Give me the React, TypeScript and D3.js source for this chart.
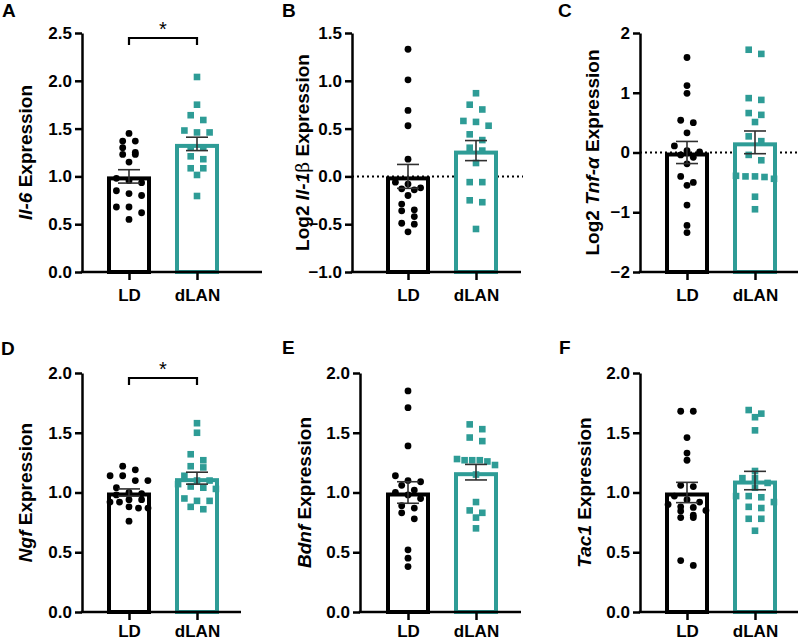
import React, { useEffect, useRef } from "react";
import * as d3 from "d3";

const groups = ["LD", "dLAN"];

// Panel A: Il-6
const il6LD = [1.45, 1.37, 1.37, 1.3, 1.25, 1.23, 1.23, 1.15, 0.98, 0.955, 0.934, 0.85, 0.82, 0.8, 0.68, 0.68, 0.62, 0.55];
const il6DLAN = [2.04, 1.75, 1.64, 1.59, 1.46, 1.48, 1.46, 1.3, 1.3, 1.21, 1.18, 1.085, 1.085, 1.015, 0.795];
// Panel B: Log2 Il-1b
const il1bLD = [1.33, 1.01, 0.69, 0.53, 0.18, -0.06, -0.08, -0.12, -0.14, -0.13, -0.2, -0.29, -0.35, -0.36, -0.42, -0.49, -0.5, -0.58];
const il1bDLAN = [0.87, 0.75, 0.7, 0.57, 0.58, 0.53, 0.44, 0.38, 0.3, 0.27, 0.14, -0.06, -0.06, -0.25, -0.27, -0.55];
// Panel C: Log2 Tnf-a
const tnfLD = [1.59, 1.12, 0.99, 0.54, 0.5, 0.33, 0.11, 0.03, 0.01, -0.04, -0.08, -0.19, -0.4, -0.5, -0.55, -0.88, -1.22, -1.34];
const tnfDLAN = [1.72, 1.65, 0.91, 0.88, 0.63, 0.66, 0.51, 0.27, 0.19, -0.04, -0.13, -0.4, -0.39, -0.44, -0.4, -0.41, -0.74, -0.95];
// Panel D: Ngf
const ngfLD = [1.22, 1.19, 1.14, 1.14, 1.1, 1.1, 1.04, 1.0, 0.99, 0.98, 0.94, 0.94, 0.92, 0.92, 0.87, 0.87, 0.88, 0.76];
const ngfDLAN = [1.58, 1.5, 1.32, 1.27, 1.22, 1.21, 1.14, 1.1, 1.1, 1.07, 1.04, 1.03, 1.05, 0.93, 0.95, 0.93, 0.86, 0.88];
// Panel E: Bdnf
const bdnfLD = [1.85, 1.71, 1.39, 1.14, 1.1, 1.09, 1.06, 1.02, 1.0, 0.98, 0.95, 0.89, 0.87, 0.83, 0.78, 0.52, 0.45, 0.38];
const bdnfDLAN = [1.57, 1.53, 1.46, 1.43, 1.27, 1.28, 1.27, 1.26, 1.27, 1.23, 1.15, 0.92, 0.83, 0.85, 0.79, 0.7];
// Panel F: Tac1
const tac1LD = [1.68, 1.68, 1.46, 1.33, 1.27, 1.06, 1.05, 0.97, 0.94, 0.92, 0.9, 0.88, 0.875, 0.85, 0.845, 0.81, 0.79, 0.79, 0.39, 0.43];
const tac1DLAN = [1.69, 1.66, 1.63, 1.52, 1.18, 1.12, 1.12, 1.08, 1.04, 0.97, 0.92, 0.97, 0.96, 0.87, 0.88, 0.78, 0.78, 0.68];

// Means and SEMs (LD, dLAN)
const meansA = [1.0, 1.34];
const semsA = [0.07, 0.07];
const meansB = [0.0, 0.27];
const semsB = [0.125, 0.105];
const meansC = [0.0, 0.17];
const semsC = [0.185, 0.19];
const meansD = [1.0, 1.12];
const semsD = [0.03, 0.05];
const meansE = [1.0, 1.17];
const semsE = [0.09, 0.065];
const meansF = [1.0, 1.1];
const semsF = [0.085, 0.077];

const ticksA = [0, 0.5, 1.0, 1.5, 2.0, 2.5];
const ticksB = [-1.0, -0.5, 0, 0.5, 1.0, 1.5];
const ticksC = [-2, -1, 0, 1, 2];
const ticksDEF = [0, 0.5, 1.0, 1.5, 2.0];

const BLACK = "#000000";
const TEAL = "#2e9c96";
const FONT = "'Liberation Sans', Arial, Helvetica, sans-serif";

type TitlePart = { t: string; italic?: boolean; light?: boolean };

const panels = [
  { letter: "A", lx: 2, ly: 17, ld: il6LD, dl: il6DLAN, means: meansA, sems: semsA, ticks: ticksA, fmt: ".1f",
    axisX: 82, axisEnd: 262, origin: 82, top: 33, bottom: 272, titleX: 32, zero: false, sig: true, xpad: 9,
    title: [{ t: "Il-6", italic: true }, { t: " Expression" }] as TitlePart[] },
  { letter: "B", lx: 282, ly: 17, ld: il1bLD, dl: il1bDLAN, means: meansB, sems: semsB, ticks: ticksB, fmt: ".1f",
    axisX: 352, axisEnd: 521, origin: 361, top: 33, bottom: 272, titleX: 308.5, zero: true, sig: false, xpad: 9,
    title: [{ t: "Log2 " }, { t: "Il-1", italic: true }, { t: "β", light: true }, { t: " Expression" }] as TitlePart[] },
  { letter: "C", lx: 558, ly: 17, ld: tnfLD, dl: tnfDLAN, means: meansC, sems: semsC, ticks: ticksC, fmt: "d",
    axisX: 640, axisEnd: 798, origin: 640, top: 33, bottom: 272, titleX: 598.5, zero: true, sig: false, xpad: 9,
    title: [{ t: "Log2 " }, { t: "Tnf-α", italic: true }, { t: " Expression" }] as TitlePart[] },
  { letter: "D", lx: 1, ly: 355, ld: ngfLD, dl: ngfDLAN, means: meansD, sems: semsD, ticks: ticksDEF, fmt: ".1f",
    axisX: 82, axisEnd: 241, origin: 82, top: 373, bottom: 612, titleX: 32, zero: false, sig: true, xpad: 5,
    title: [{ t: "Ngf", italic: true }, { t: " Expression" }] as TitlePart[] },
  { letter: "E", lx: 282, ly: 354, ld: bdnfLD, dl: bdnfDLAN, means: meansE, sems: semsE, ticks: ticksDEF, fmt: ".1f",
    axisX: 360, axisEnd: 521, origin: 361, top: 373, bottom: 612, titleX: 310.5, zero: false, sig: false, xpad: 5,
    title: [{ t: "Bdnf", italic: true }, { t: " Expression" }] as TitlePart[] },
  { letter: "F", lx: 559, ly: 354, ld: tac1LD, dl: tac1DLAN, means: meansF, sems: semsF, ticks: ticksDEF, fmt: ".1f",
    axisX: 640, axisEnd: 798, origin: 640, top: 373, bottom: 612, titleX: 590.5, zero: false, sig: false, xpad: 5,
    title: [{ t: "Tac1", italic: true }, { t: " Expression" }] as TitlePart[] },
];

function swarm(values: number[], y: d3.ScaleLinear<number, number>) {
  const pts = values.map((v) => ({ v, y: y(v), dx: 0 })).sort((a, b) => a.y - b.y);
  const rows: typeof pts[] = [];
  let cur: typeof pts = [];
  for (const p of pts) {
    if (cur.length && p.y - cur[0].y > 6.5) {
      rows.push(cur);
      cur = [p];
    } else cur.push(p);
  }
  if (cur.length) rows.push(cur);
  rows.forEach((row) => {
    const n = row.length;
    const step = n > 4 ? 38 / (n - 1) : 12.6;
    row.forEach((p, i) => (p.dx = (i - (n - 1) / 2) * step));
  });
  return pts;
}

export default function App() {
  const ref = useRef<SVGSVGElement>(null);

  useEffect(() => {
    const svg = d3.select(ref.current);
    svg.selectAll("*").remove();

    panels.forEach((p) => {
      const g = svg.append("g");
      const y = d3.scaleLinear().domain([p.ticks[0], p.ticks[p.ticks.length - 1]]).range([p.bottom, p.top]);
      const x = d3.scalePoint<string>().domain(groups).range([p.origin + 47, p.origin + 115]);

      // panel letter
      g.append("text").attr("x", p.lx).attr("y", p.ly).attr("font-family", FONT)
        .attr("font-weight", "bold").attr("font-size", 19).text(p.letter);

      // y title
      const tt = g.append("text")
        .attr("transform", `translate(${p.titleX},${(p.top + p.bottom) / 2}) rotate(-90)`)
        .attr("text-anchor", "middle").attr("font-family", FONT)
        .attr("font-weight", "bold").attr("font-size", 19);
      p.title.forEach((part) => {
        const ts = tt.append("tspan").text(part.t);
        if (part.italic) ts.attr("font-style", "italic");
        if (part.light) ts.attr("font-weight", "normal").attr("font-family", "'DejaVu Serif', serif");
      });

      // zero dotted line
      if (p.zero) {
        g.append("line").attr("x1", p.axisX).attr("x2", p.axisEnd + 2)
          .attr("y1", y(0)).attr("y2", y(0)).attr("stroke", "#000")
          .attr("stroke-width", 2).attr("stroke-dasharray", "2,3");
      }

      // bars (outer edge of stroke at the mean)
      const colors = [BLACK, TEAL];
      groups.forEach((grp, i) => {
        const m = p.means[i];
        const top = y(m) + 2;
        g.append("rect").attr("x", (x(grp) as number) - 20).attr("width", 40)
          .attr("y", top).attr("height", p.bottom - top)
          .attr("fill", "white").attr("stroke", colors[i]).attr("stroke-width", 4);
      });

      // points
      const ldPts = swarm(p.ld, y);
      g.selectAll(null).data(ldPts).enter().append("circle")
        .attr("cx", (d) => (x("LD") as number) + d.dx).attr("cy", (d) => d.y)
        .attr("r", 3.4).attr("fill", BLACK);
      const dlPts = swarm(p.dl, y);
      g.selectAll(null).data(dlPts).enter().append("rect")
        .attr("x", (d) => (x("dLAN") as number) + d.dx - 3.3).attr("y", (d) => d.y - 3.3)
        .attr("width", 6.6).attr("height", 6.6).attr("fill", TEAL);

      // error bars
      groups.forEach((grp, i) => {
        const cx = x(grp) as number;
        const hi = y(p.means[i] + p.sems[i]);
        const lo = y(p.means[i] - p.sems[i]);
        const eg = g.append("g").attr("stroke", "#303030").attr("stroke-width", 1.6);
        eg.append("line").attr("x1", cx).attr("x2", cx).attr("y1", hi).attr("y2", lo);
        eg.append("line").attr("x1", cx - 11).attr("x2", cx + 11).attr("y1", hi).attr("y2", hi);
        eg.append("line").attr("x1", cx - 11).attr("x2", cx + 11).attr("y1", lo).attr("y2", lo);
      });

      // y axis
      const yAxis = d3.axisLeft(y).tickValues(p.ticks).tickSize(7).tickSizeOuter(0).tickPadding(3)
        .tickFormat(d3.format(p.fmt) as any);
      const ya = g.append("g").attr("transform", `translate(${p.axisX},0)`).call(yAxis);
      ya.select(".domain").attr("stroke-width", 2.5);
      ya.selectAll(".tick line").attr("stroke-width", 2.5);
      ya.selectAll(".tick text").attr("font-family", FONT).attr("font-weight", "bold")
        .attr("font-size", 17).attr("fill", "#000");

      // x axis
      g.append("line").attr("x1", p.axisX - 1.25).attr("x2", p.axisEnd).attr("y1", p.bottom).attr("y2", p.bottom)
        .attr("stroke", "#000").attr("stroke-width", 2.5);
      const xAxis = d3.axisBottom(x).tickSize(8).tickSizeOuter(0).tickPadding(p.xpad);
      const xa = g.append("g").attr("transform", `translate(0,${p.bottom})`).call(xAxis);
      xa.select(".domain").remove();
      xa.selectAll(".tick line").attr("stroke-width", 2.5);
      xa.selectAll(".tick text").attr("font-family", FONT).attr("font-weight", "bold")
        .attr("font-size", 17).attr("fill", "#000");

      // significance bracket
      if (p.sig) {
        const x1 = x("LD") as number;
        const x2 = x("dLAN") as number;
        const by = p.top + 5;
        g.append("path").attr("d", `M${x1},${by + 7}V${by}H${x2}V${by + 7}`)
          .attr("fill", "none").attr("stroke", "#000").attr("stroke-width", 2.2);
        g.append("text").attr("x", (x1 + x2) / 2).attr("y", by - 2).attr("text-anchor", "middle")
          .attr("font-family", FONT).attr("font-size", 20).text("*");
      }
    });
  }, []);

  return (
    <svg ref={ref} width={800} height={640}
      style={{ position: "absolute", left: 0, top: 0, background: "white" }} />
  );
}
